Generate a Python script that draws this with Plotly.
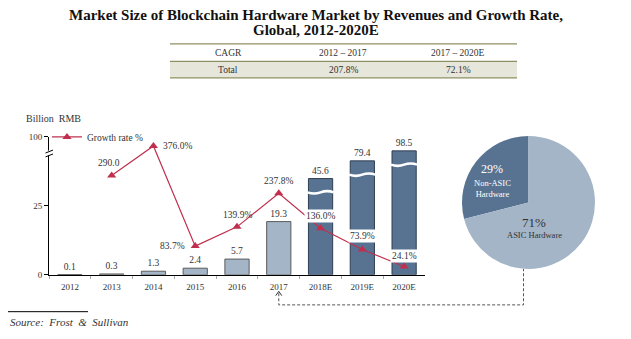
import plotly.graph_objects as go

# ---------------- data ----------------
years = ["2012", "2013", "2014", "2015", "2016", "2017", "2018E", "2019E", "2020E"]
market_size = [0.1, 0.3, 1.3, 2.4, 5.7, 19.3, 45.6, 79.4, 98.5]
is_forecast = [False, False, False, False, False, False, True, True, True]
growth_years = ["2013", "2014", "2015", "2016", "2017", "2018E", "2019E", "2020E"]
growth_rate = [290.0, 376.0, 83.7, 139.9, 237.8, 136.0, 73.9, 24.1]
growth_text = ["290.0", "376.0%", "83.7%", "139.9%", "237.8%", "136.0%", "73.9%", "24.1%"]
pie_labels = ["Non-ASIC Hardware", "ASIC Hardware"]
pie_values = [29, 71]
cagr_header = ["CAGR", "2012 \u2013 2017", "2017 \u2013 2020E"]
cagr_total = ["Total", "207.8%", "72.1%"]
y_tick_values = [0, 25, 100]

# ---------------- style ----------------
W, H = 631, 339
SERIF = "Liberation Serif, Times New Roman, serif"
TXT = "#333333"
LIGHT = "#a3b5c7"
DARK = "#587392"
RED = "#c0304e"
OLIVE = "#8f8f63"

BREAK = 25          # axis is broken above this value
AXIS_TOP = 50       # display position of the top tick (100)


def disp(v):
    """broken-axis scale: linear up to BREAK, compressed above it"""
    if v >= 100:
        return AXIS_TOP
    return v if v <= BREAK else 31 + (v - BREAK) * 0.19


def px(x):
    return x / W


def py(y):
    return 1 - y / H


X0, X1 = 49, 425
Y_BOTTOM, Y_TOP = 278, 136
PX_PER_UNIT = (Y_BOTTOM - Y_TOP) / AXIS_TOP
PX_PER_PCT = 0.3532
Y2_TOP = (Y_BOTTOM - Y_TOP) / PX_PER_PCT
SLOT = (X1 - X0) / len(years)
BAR_FRAC = 0.58
LBL = 9.5

fig = go.Figure()

fig.add_trace(go.Bar(
    x=years,
    y=[disp(v) for v in market_size],
    text=[f"{v:.1f}" for v in market_size],
    textposition="outside",
    textfont=dict(family=SERIF, size=LBL, color=TXT),
    cliponaxis=False,
    marker=dict(
        color=[DARK if f else LIGHT for f in is_forecast],
        line=dict(color=["#2f3f52" if f else "#5b5b5b" for f in is_forecast], width=1),
    ),
    showlegend=False,
    hoverinfo="skip",
))

fig.add_trace(go.Scatter(
    x=growth_years, y=growth_rate, yaxis="y2",
    mode="lines+markers",
    line=dict(color=RED, width=1.2),
    marker=dict(symbol="triangle-up", size=8, color=RED),
    name="Growth rate %",
    cliponaxis=False,
))

fig.add_trace(go.Pie(
    labels=pie_labels, values=pie_values,
    sort=False, direction="clockwise",
    rotation=-360 * pie_values[0] / sum(pie_values),
    marker=dict(colors=[DARK, LIGHT]),
    textinfo="none", hoverinfo="label+percent",
    domain=dict(x=[px(460), px(597)], y=[py(272), py(135)]),
    showlegend=False,
))

ann = []
shapes = []


def note(x, y, text, size, color=TXT, xanchor="center", **kw):
    d = dict(x=px(x), y=py(y), xref="paper", yref="paper", text=text, showarrow=False,
             xanchor=xanchor, yanchor="middle", font=dict(family=SERIF, size=size, color=color))
    d.update(kw)
    ann.append(d)


# growth labels
label_shift = [(-3, 12, "center"), (8, 0, "left"), (-8, 0, "right"), (0, 12, "center"),
               (0, 12, "center"), (0, 12, "center"), (0, 13, "center"), (0, 11, "center")]
label_bg = [None, None, None, None, None, "white", "white", "white"]
for yr, g, t, (dx, dy, anc), bg in zip(growth_years, growth_rate, growth_text, label_shift, label_bg):
    a = dict(x=years.index(yr), y=g, xref="x", yref="y2", text=t, showarrow=False,
             xshift=dx, yshift=dy, xanchor=anc, yanchor="middle",
             font=dict(family=SERIF, size=LBL, color=TXT))
    if bg:
        a.update(bgcolor=bg, borderpad=1)
    ann.append(a)

# wave breaks on tall bars (computed from the axis geometry)
for i, (v, f) in enumerate(zip(market_size, is_forecast)):
    if v > BREAK:
        yb = Y_BOTTOM - (disp(v) - 5) * PX_PER_UNIT
        cx = X0 + (i + 0.5) * SLOT
        a0, a1 = cx - SLOT * BAR_FRAC / 2 - 1, cx + SLOT * BAR_FRAC / 2 + 1
        w = a1 - a0
        amp = 2.0
        path = (f"M {px(a0)},{py(yb)} C {px(a0 + w*0.2)},{py(yb + amp)} {px(a0 + w*0.3)},{py(yb + amp)} {px(a0 + w*0.5)},{py(yb)} "
                f"C {px(a0 + w*0.7)},{py(yb - amp)} {px(a0 + w*0.8)},{py(yb - amp)} {px(a1)},{py(yb)}")
        shapes.append(dict(type="path", xref="paper", yref="paper", path=path,
                           line=dict(color="white", width=2.6)))

# y axis break marks
shapes.append(dict(type="rect", xref="paper", yref="paper",
                   x0=px(47), x1=px(51), y0=py(155), y1=py(150),
                   fillcolor="white", line=dict(width=0)))
for off in (0, 4):
    shapes.append(dict(type="line", xref="paper", yref="paper",
                       x0=px(45.5), y0=py(152.5 + off), x1=px(53), y1=py(149.5 + off),
                       line=dict(color="black", width=1)))

# title
note(315.5, 10.5, "<b>Market Size of Blockchain Hardware Market by Revenues and Growth Rate,</b>", 15, "#111")
note(315.5, 25.5, "<b>Global, 2012-2020E</b>", 15, "#111")

# CAGR table
TL, TR = 170, 517
shapes.append(dict(type="rect", xref="paper", yref="paper", x0=px(TL), x1=px(TR),
                   y0=py(75), y1=py(58), fillcolor="#e6e6db", line=dict(width=0)))
for yy in (40, 58, 75):
    shapes.append(dict(type="line", xref="paper", yref="paper", x0=px(TL), x1=px(TR),
                       y0=py(yy), y1=py(yy), line=dict(color=OLIVE, width=1.2)))
col_x = [228, 343, 458]
for cx, h, t in zip(col_x, cagr_header, cagr_total):
    note(cx, 49.5, h, 9.5)
    note(cx, 67, t, 9.5)

# unit label
note(24, 117, "Billion  RMB", 10, xanchor="left")

# pie labels
note(492, 169, "29%", 12, "white")
note(492, 189, "Non-ASIC<br>Hardware", 8.5, "white")
note(534, 224, "71%", 13)
note(534, 236.5, "ASIC Hardware", 8.5)

# dashed connector pie -> 2017
cx17 = X0 + (years.index("2017") + 0.5) * SLOT
shapes.append(dict(type="path", xref="paper", yref="paper",
                   path=f"M {px(cx17)},{py(297)} L {px(cx17)},{py(309)} L {px(523.5)},{py(309)} L {px(523.5)},{py(272)}",
                   line=dict(color="#555", width=1, dash="3px,2px")))
shapes.append(dict(type="path", xref="paper", yref="paper",
                   path=f"M {px(cx17 - 3)},{py(299.5)} L {px(cx17)},{py(295)} L {px(cx17 + 3)},{py(299.5)}",
                   line=dict(color="#333", width=1)))

# source
shapes.append(dict(type="line", xref="paper", yref="paper", x0=px(8), x1=px(88), y0=py(316), y1=py(316),
                   line=dict(color="black", width=1)))
note(8, 326.5, "<i>Source:  Frost  &  Sullivan</i>", 11, xanchor="left")

fig.update_layout(
    width=W, height=H,
    margin=dict(l=0, r=0, t=0, b=0),
    paper_bgcolor="white", plot_bgcolor="white",
    font=dict(family=SERIF, size=10, color=TXT),
    bargap=1 - BAR_FRAC,
    xaxis=dict(type="category", categoryorder="array", categoryarray=years,
               range=[-0.5, len(years) - 0.5], domain=[px(X0), px(X1)],
               showline=True, linecolor="black", linewidth=1.2,
               ticks="outside", tickson="boundaries", ticklen=3, tickcolor="#aaaaaa",
               ticklabelstandoff=3,
               tickfont=dict(family=SERIF, size=9, color=TXT), showgrid=False, fixedrange=True),
    yaxis=dict(domain=[py(Y_BOTTOM), py(Y_TOP)], range=[0, AXIS_TOP],
               tickvals=[disp(v) for v in y_tick_values], ticktext=[str(v) for v in y_tick_values],
               ticks="outside", ticklen=4, tickcolor="black", showline=True, linecolor="black", linewidth=1,
               showgrid=False, zeroline=False, tickfont=dict(family=SERIF, size=9, color=TXT)),
    yaxis2=dict(overlaying="y", range=[0, Y2_TOP], visible=False),
    legend=dict(x=px(47), y=py(121), xanchor="left", yanchor="top", bgcolor="rgba(0,0,0,0)",
                font=dict(family=SERIF, size=9.5, color=TXT), itemwidth=30),
    annotations=ann,
    shapes=shapes,
)

fig.write_html("out.html")
